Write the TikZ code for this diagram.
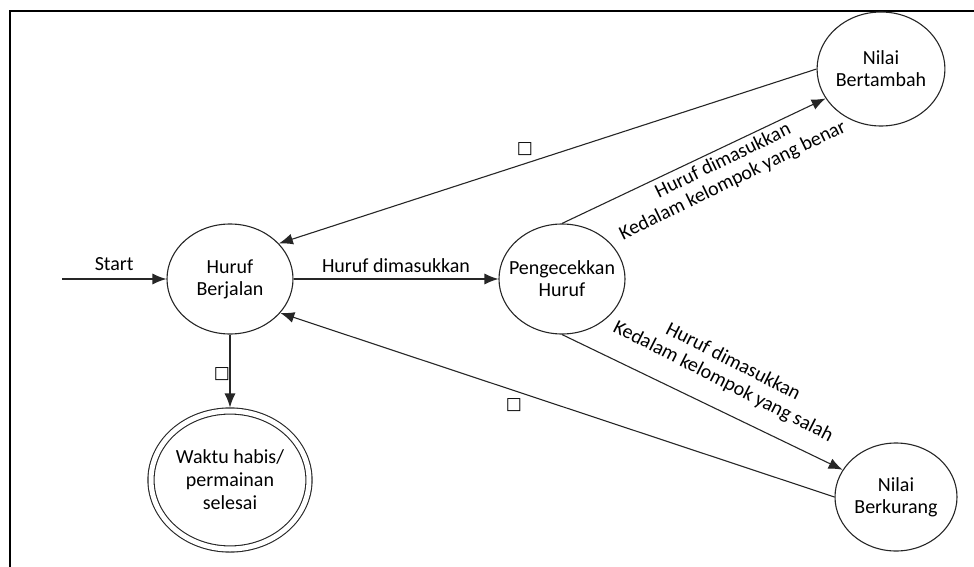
\documentclass[tikz,border=0pt]{standalone}
\usepackage{fontspec}
\setmainfont{Carlito}
\newfontfamily\symfont{DejaVu Sans}
\usetikzlibrary{shapes.geometric, arrows.meta}
\tikzset{
    statenode/.style={draw=black!85, ellipse, inner sep=0pt, align=center,
        minimum width=126pt, minimum height=110pt, font=\fontsize{20}{22}\selectfont},
    endnode/.style={statenode, double, double distance=5pt,
        minimum width=158pt, minimum height=138pt, font=\fontsize{20}{23}\selectfont},
    lbl/.style={align=center, inner sep=0pt, font=\fontsize{20}{22}\selectfont},
    boxlbl/.style={inner sep=0pt, font=\symfont\fontsize{17}{17}\selectfont}
}

\begin{document}
\begin{tikzpicture}[x=1pt, y=-1pt, >={Latex[length=14pt, width=11pt]}, line width=1.1pt]

    \useasboundingbox (0,0) rectangle (974,567);
    \draw[line width=1.8pt] (10,567) -- (10,11) -- (974,11);

    \draw(230,279) node[statenode] (hb) {Huruf\\Berjalan};
    \draw(562,279) node[statenode, inner xsep=-10pt] (pc) {Pengecekkan\\Huruf};
    \draw(881,69) node[statenode, minimum height=114pt] (nb) {Nilai\\Bertambah};
    \draw(896,497) node[statenode, minimum width=122pt, minimum height=108pt] (nk) {Nilai\\Berkurang};
    \draw(230,480) node[endnode] (wh) {Waktu habis/\\permainan\\selesai};
    \coordinate (st) at (62,279);

    \draw[->, draw=black!85] (st) -- (hb) node[midway, above=4pt, font=\fontsize{20}{22}\selectfont] (lstart) {Start};
    \draw[->, draw=black!85] (hb) -- (pc) node[midway, above=2.5pt, font=\fontsize{20}{22}\selectfont] (lmasuk) {Huruf dimasukkan};
    \draw[->, draw=black!85] (pc.north) -- (nb.208);
    \draw[->, draw=black!85] (pc.south) -- (nk.153);
    \draw[->, draw=black!85] (nb.west) -- (hb.36);
    \draw[->, draw=black!85] (nk.west) -- (hb.-34);
    \draw[->, draw=black!85, shorten >=3pt] (hb.south) -- (wh.north);

    \draw(728,171) node[lbl, rotate=26] (lbenar) {Huruf dimasukkan\\Kedalam kelompok yang benar};
    \draw(728,372) node[lbl, rotate=-27] (lsalah) {Huruf dimasukkan\\Kedalam kelompok yang salah};

    \draw(525,149) node[boxlbl] (e1) {□};
    \draw(514,405) node[boxlbl] (e2) {□};
    \draw(222,374) node[boxlbl] (e3) {□};

\end{tikzpicture}
\end{document}
